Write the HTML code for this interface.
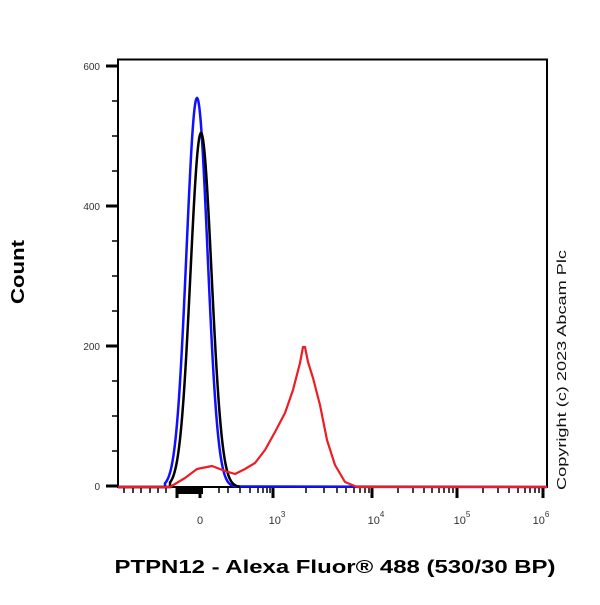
<!DOCTYPE html><html><head><style>body{margin:0;background:#fff}</style></head><body>
<svg width="600" height="600" xmlns="http://www.w3.org/2000/svg" font-family="Liberation Sans, sans-serif">
<rect x="118" y="59.5" width="429" height="427.5" fill="none" stroke="#000" stroke-width="2"/>
<g stroke="#000" stroke-width="3">
<line x1="106" y1="66" x2="118" y2="66"/><line x1="106" y1="206" x2="118" y2="206"/><line x1="106" y1="346" x2="118" y2="346"/><line x1="106" y1="486" x2="118" y2="486"/>
</g>
<g stroke="#000" stroke-width="1.5">
<line x1="112" y1="101" x2="118" y2="101"/><line x1="112" y1="136" x2="118" y2="136"/><line x1="112" y1="171" x2="118" y2="171"/>
<line x1="112" y1="241" x2="118" y2="241"/><line x1="112" y1="276" x2="118" y2="276"/><line x1="112" y1="311" x2="118" y2="311"/>
<line x1="112" y1="381" x2="118" y2="381"/><line x1="112" y1="416" x2="118" y2="416"/><line x1="112" y1="451" x2="118" y2="451"/>
</g>
<g font-size="10" fill="#333" text-anchor="end">
<text x="100" y="70">600</text><text x="100" y="210">400</text><text x="100" y="350">200</text><text x="100" y="490">0</text>
</g>
<g stroke="#000" stroke-width="1.5">
<line x1="124" y1="487" x2="124" y2="493"/><line x1="133" y1="487" x2="133" y2="493"/><line x1="141" y1="487" x2="141" y2="493"/><line x1="150" y1="487" x2="150" y2="493"/><line x1="158" y1="487" x2="158" y2="493"/><line x1="166" y1="487" x2="166" y2="493"/>
<line x1="219" y1="487" x2="219" y2="493"/><line x1="228" y1="487" x2="228" y2="493"/><line x1="240" y1="487" x2="240" y2="493"/><line x1="250" y1="487" x2="250" y2="493"/><line x1="258" y1="487" x2="258" y2="493"/><line x1="263" y1="487" x2="263" y2="493"/><line x1="267" y1="487" x2="267" y2="493"/><line x1="270" y1="487" x2="270" y2="493"/>
<line x1="306" y1="487" x2="306" y2="493"/><line x1="324" y1="487" x2="324" y2="493"/><line x1="337" y1="487" x2="337" y2="493"/><line x1="346" y1="487" x2="346" y2="493"/><line x1="354" y1="487" x2="354" y2="493"/><line x1="360" y1="487" x2="360" y2="493"/><line x1="365" y1="487" x2="365" y2="493"/><line x1="369" y1="487" x2="369" y2="493"/>
<line x1="398" y1="487" x2="398" y2="493"/><line x1="413" y1="487" x2="413" y2="493"/><line x1="424" y1="487" x2="424" y2="493"/><line x1="432" y1="487" x2="432" y2="493"/><line x1="439" y1="487" x2="439" y2="493"/><line x1="444" y1="487" x2="444" y2="493"/><line x1="449" y1="487" x2="449" y2="493"/><line x1="453" y1="487" x2="453" y2="493"/>
<line x1="483" y1="487" x2="483" y2="493"/><line x1="498" y1="487" x2="498" y2="493"/><line x1="509" y1="487" x2="509" y2="493"/><line x1="518" y1="487" x2="518" y2="493"/><line x1="525" y1="487" x2="525" y2="493"/><line x1="530" y1="487" x2="530" y2="493"/><line x1="535" y1="487" x2="535" y2="493"/><line x1="539" y1="487" x2="539" y2="493"/>
</g>
<g stroke="#000" stroke-width="3">
<line x1="273" y1="487" x2="273" y2="498"/><line x1="372" y1="487" x2="372" y2="498"/><line x1="457" y1="487" x2="457" y2="498"/><line x1="543" y1="487" x2="543" y2="498"/>
<line x1="177" y1="487" x2="177" y2="498"/><line x1="200" y1="487" x2="200" y2="498"/>
</g>
<rect x="176" y="487" width="27" height="7" fill="#000"/>
<g font-size="11" fill="#333" text-anchor="middle">
<text x="200" y="524">0</text>
<text x="277" y="524">10<tspan font-size="8" dy="-7">3</tspan></text>
<text x="376" y="524">10<tspan font-size="8" dy="-7">4</tspan></text>
<text x="462" y="524">10<tspan font-size="8" dy="-7">5</tspan></text>
<text x="541" y="524">10<tspan font-size="8" dy="-7">6</tspan></text>
</g>
<path id="blue" d="" fill="none" stroke="#1010ff" stroke-width="2.5"/>
<path id="black" d="" fill="none" stroke="#000" stroke-width="2.5"/>
<path d="M118,487 L170,487 L185,478 L197,469 L212,466 L225,471 L235,474 L245,469 L255,463 L265,450 L275,432 L285,413 L293,390 L300,363 L303,347 L305,347 L308,362 L313,378 L320,405 L327,440 L335,465 L345,482 L357,487 L547,487" fill="none" stroke="#ee1c24" stroke-width="2.2" stroke-linejoin="round"/>
<text x="24" y="272" font-size="18" font-weight="bold" text-anchor="middle" textLength="64" lengthAdjust="spacingAndGlyphs" transform="rotate(-90 24 272)">Count</text>
<text x="335" y="573" font-size="18" font-weight="bold" text-anchor="middle" textLength="441" lengthAdjust="spacingAndGlyphs">PTPN12 - Alexa Fluor® 488 (530/30 BP)</text>
<text x="566" y="370" font-size="13" fill="#111" text-anchor="middle" textLength="240" lengthAdjust="spacingAndGlyphs" transform="rotate(-90 566 370)">Copyright (c) 2023 Abcam Plc</text>
</svg>
<script>
function g(id,c,h,s,x0,x1){var d='M118,487 L'+x0+',487';for(var x=x0;x<=x1;x+=0.5){var y=487-h*Math.exp(-Math.pow(x-c,2)/(2*s*s));d+=' L'+x+','+y.toFixed(2);}if(id=='blue')d+=' L547,487';document.getElementById(id).setAttribute('d',d);}
g('blue',197,389,10.5,165,235);g('black',201,354,10.5,170,240);
</script>
</body></html>
